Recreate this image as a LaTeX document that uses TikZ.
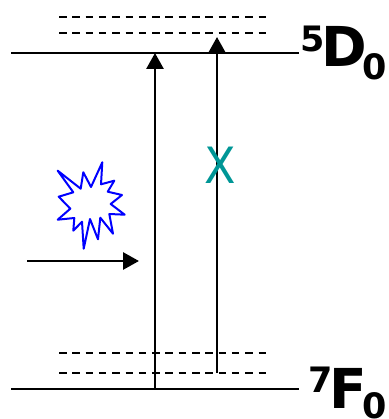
\documentclass[tikz,border=0pt]{standalone}
\usepackage{fontspec}
\setmainfont{DejaVu Sans}
\usepackage{xcolor}
\usetikzlibrary{arrows.meta,positioning}
\definecolor{crossteal}{RGB}{0,150,150}
\newcommand{\termlabel}[4]{{\fontsize{35}{35}\selectfont\raisebox{15.5pt}{#1}}\kern-3pt{\fontsize{55}{55}\selectfont #2}\kern-4.5pt{\fontsize{35}{35}\selectfont\raisebox{#4}{#3}}}
\begin{document}
\begin{tikzpicture}[
  x=1pt, y=-1pt,
  >={Triangle[length=16pt,width=17pt]},
  level/.style={line width=2pt},
  sublevel/.style={line width=1.7pt, dash pattern=on 7.5pt off 5.8pt},
  trans/.style={line width=2.8pt, ->},
  term/.style={font=\bfseries, inner sep=0pt, anchor=base west},
  cross/.style={text=crossteal, font=\fontsize{50}{50}\selectfont, inner sep=0pt, xscale=.92}
]
  \useasboundingbox (0,0) rectangle (388,419);
  % levels
  \coordinate (d0l) at (11,53);
  \coordinate (d0r) at (299,53);
  \coordinate (f0l) at (11,389);
  \coordinate (f0r) at (299,389);
  \draw[level] (d0l) -- (d0r);
  \draw[level] (f0l) -- (f0r);
  \foreach \yy/\nm in {17/da,33/db,353/fa,373/fb}{
    \coordinate (\nm l) at (59,\yy);
    \coordinate (\nm r) at (267,\yy);
    \draw[sublevel] (\nm l) -- (\nm r);
  }
  % labels
  \node[term] (dterm) at (300,67) {\termlabel{5}{D}{0}{-12.5pt}};
  \node[term] (fterm) at (308,408) {\termlabel{7}{F}{0}{-10pt}};
  % transitions
  \coordinate (upa) at (155,389);
  \coordinate (upatip) at (155,53);
  \coordinate (upb) at (217,373);
  \coordinate (upbtip) at (217,37);
  \coordinate (pump) at (27,261);
  \coordinate (pumptip) at (139,261);
  \draw[trans] (upa) -- (upatip);
  \draw[trans] (upb) -- (upbtip);
  \draw[trans] (pump) -- (pumptip);
  \node[cross] (blocked) at (220,165) {X};
  % burst
  \draw[blue, line width=2pt, line join=round] (102.3,162.3) -- (101,184.3) -- (114.3,180.7) -- (107.7,191.7)
    -- (122,195) -- (110.7,204) -- (124.7,214.7) -- (109.3,214) -- (113,233.7) -- (100.3,217.7)
    -- (98,239.3) -- (90,219) -- (83.7,248.7) -- (82,221.7) -- (73.3,230.7) -- (74.3,218)
    -- (57.7,219.7) -- (70.3,208.7) -- (58.7,196.7) -- (73.3,192.3) -- (57.7,170.7) -- (80.7,188.7)
    -- (83.3,172.3) -- (91,187) -- cycle;
\end{tikzpicture}
\end{document}
